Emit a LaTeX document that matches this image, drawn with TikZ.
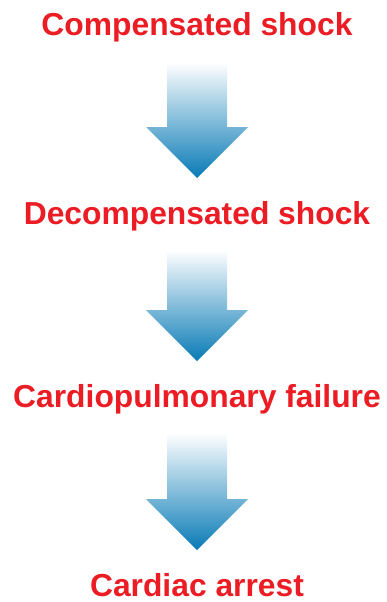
\documentclass[tikz,border=0pt]{standalone}
\usepackage{fontspec}
\setmainfont{Liberation Sans}
\usepackage{tikz}
\usetikzlibrary{calc}

\definecolor{shockred}{RGB}{236,28,36}
\definecolor{arrowblue}{RGB}{8,122,182}

\tikzset{
	stage/.style={text=shockred, inner sep=0pt, anchor=base, text depth=0pt,
		font=\fontsize{31.8}{36}\selectfont\bfseries},
	flowarrow/.style={top color=white, bottom color=arrowblue, draw=none}
}

% block arrow from the stage above to the stage below
\newcommand{\stagearrow}[2]{%
	\coordinate (top) at ($(#1.base)+(0,26)$);
	\coordinate (tip) at ($(#2.base)+(0,-46)$);
	\shade[flowarrow] ($(top)+(-30,0)$) -- ($(top)+(30,0)$)
		-- ($(tip)+(30,-51)$) -- ($(tip)+(51,-51)$) -- (tip)
		-- ($(tip)+(-51,-51)$) -- ($(tip)+(-30,-51)$) -- cycle;
}

\begin{document}
\begin{tikzpicture}[x=1pt, y=-1pt]
	\useasboundingbox (0,0) rectangle (386,602);
	% Stages:
	\node[stage] (s1) at (197,36) {Compensated shock};
	\node[stage] (s2) at (197,224) {Decompensated shock};
	\node[stage] (s3) at (197,407) {Cardiopulmonary failure};
	\node[stage] (s4) at (197,596) {Cardiac arrest};
	% Arrows:
	\stagearrow{s1}{s2}
	\stagearrow{s2}{s3}
	\stagearrow{s3}{s4}
\end{tikzpicture}
\end{document}
